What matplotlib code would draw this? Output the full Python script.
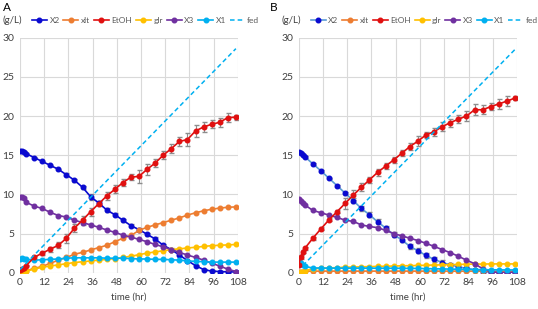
import matplotlib.pyplot as plt

plt.rcParams['font.family'] = ['Lato', 'DejaVu Sans']

t = [0, 1, 2, 3, 7, 11, 15, 19, 23, 27, 31, 35, 39, 43, 47, 51, 55, 59, 63, 67,
     71, 75, 79, 83, 87, 91, 95, 99, 103, 107]

# panel A
a_x2 = [15.5, 15.5, 15.4, 15.2, 14.7, 14.2, 13.7, 13.2, 12.5, 11.8, 10.9, 9.7, 8.9, 8.0, 7.4,
        6.7, 6.0, 5.5, 4.9, 4.3, 3.5, 2.95, 2.25, 1.55, 0.9, 0.4, 0.2, 0.15, 0.1, 0.1]
a_x2_err = [0.1, 0.1, 0.1, 0.1, 0.1, 0.1, 0.1, 0.1, 0.2, 0.2, 0.2, 0.4, 0.2, 0.2, 0.2,
            0.2, 0.2, 0.2, 0.2, 0.2, 0.2, 0.2, 0.1, 0.1, 0.1, 0.1, 0.1, 0.1, 0.1, 0.1]
a_xlt = [0.1, 0.1, 0.15, 0.25, 0.55, 0.8, 1.2, 1.6, 1.95, 2.35, 2.6, 2.9, 3.2, 3.5, 3.95,
         4.4, 4.75, 5.4, 5.8, 6.1, 6.4, 6.7, 7.0, 7.35, 7.65, 7.9, 8.1, 8.25, 8.35, 8.4]
a_etoh = [0.4, 0.45, 0.6, 0.9, 1.95, 2.5, 3.0, 3.5, 4.4, 5.7, 6.7, 7.8, 8.8, 9.8, 10.65,
          11.5, 12.2, 12.3, 13.2, 14.0, 15.0, 15.85, 16.75, 17.0, 18.1, 18.6, 18.95, 19.2, 19.8, 19.85]
a_etoh_err = [0.1, 0.1, 0.1, 0.1, 0.2, 0.2, 0.3, 0.4, 0.6, 0.5, 0.6, 0.5, 0.3, 0.5, 0.5,
              0.4, 0.4, 0.8, 0.7, 0.5, 0.5, 0.6, 0.6, 0.8, 0.8, 0.7, 0.5, 0.6, 0.6, 0.3]
a_glr = [0.0, 0.05, 0.1, 0.2, 0.45, 0.7, 0.85, 1.0, 1.15, 1.3, 1.4, 1.5, 1.6, 1.7, 1.8,
         1.95, 2.1, 2.3, 2.5, 2.65, 2.8, 2.95, 3.05, 3.15, 3.25, 3.35, 3.45, 3.5, 3.55, 3.6]
a_x3 = [9.6, 9.7, 9.5, 9.0, 8.5, 8.2, 7.7, 7.3, 7.1, 6.7, 6.4, 6.1, 5.8, 5.45, 5.15,
        4.8, 4.55, 4.25, 3.95, 3.6, 3.3, 2.95, 2.6, 2.25, 1.95, 1.6, 1.2, 0.85, 0.45, 0.15]
a_x1 = [1.8, 1.85, 1.8, 1.7, 1.6, 1.65, 1.7, 1.75, 1.85, 1.9, 1.9, 1.9, 1.9, 1.85, 1.85,
        1.85, 1.8, 1.75, 1.75, 1.7, 1.7, 1.65, 1.6, 1.5, 1.45, 1.4, 1.35, 1.35, 1.35, 1.35]
a_fed_t = [0, 107]
a_fed = [0.4, 28.6]

# panel B
b_x2 = [15.45, 15.25, 15.0, 14.8, 13.9, 13.0, 12.05, 11.1, 10.15, 9.2, 8.2, 7.4, 6.5, 5.7, 4.85,
        4.2, 3.35, 2.8, 2.2, 1.7, 1.3, 1.0, 0.75, 0.55, 0.4, 0.15, 0.05, 0.0, 0.0, 0.0]
b_x2_err = [0.1, 0.1, 0.1, 0.1, 0.1, 0.1, 0.1, 0.1, 0.2, 0.3, 0.3, 0.3, 0.3, 0.3, 0.3,
            0.3, 0.3, 0.3, 0.3, 0.3, 0.3, 0.3, 0.2, 0.2, 0.1, 0.1, 0.1, 0.1, 0.1, 0.1]
b_xlt = [0.1, 0.15, 0.15, 0.2, 0.2, 0.2, 0.2, 0.2, 0.2, 0.2, 0.2, 0.2, 0.2, 0.2, 0.2,
         0.2, 0.2, 0.2, 0.2, 0.2, 0.2, 0.2, 0.2, 0.2, 0.2, 0.2, 0.2, 0.2, 0.2, 0.2]
b_etoh = [1.0, 2.0, 2.7, 3.1, 4.4, 5.6, 6.75, 7.8, 8.85, 9.9, 10.9, 11.85, 12.8, 13.6, 14.4,
          15.25, 16.1, 16.8, 17.6, 18.0, 18.65, 19.15, 19.6, 20.0, 20.8, 20.8, 21.2, 21.55, 21.9, 22.3]
b_etoh_err = [0.1, 0.2, 0.2, 0.2, 0.2, 0.2, 0.2, 0.2, 0.7, 0.6, 0.5, 0.4, 0.5, 0.4, 0.4,
              0.4, 0.5, 0.6, 0.4, 0.5, 0.6, 0.5, 0.5, 0.6, 0.7, 0.6, 0.4, 0.6, 0.6, 0.2]
b_glr = [0.0, 0.1, 0.15, 0.25, 0.5, 0.55, 0.6, 0.65, 0.7, 0.72, 0.75, 0.78, 0.8, 0.82, 0.85,
         0.88, 0.9, 0.92, 0.95, 0.98, 1.0, 1.02, 1.05, 1.08, 1.1, 1.1, 1.12, 1.12, 1.12, 1.12]
b_x3 = [9.4, 9.2, 8.9, 8.65, 7.95, 7.65, 7.35, 7.05, 6.7, 6.55, 6.1, 5.9, 5.75, 5.4, 5.0,
        4.7, 4.4, 4.1, 3.75, 3.35, 2.95, 2.55, 2.1, 1.6, 1.15, 0.5, 0.12, 0.02, 0.02, 0.05]
b_x1 = [1.5, 1.3, 1.0, 0.8, 0.6, 0.6, 0.58, 0.58, 0.58, 0.58, 0.58, 0.58, 0.57, 0.57, 0.57,
        0.56, 0.55, 0.54, 0.52, 0.5, 0.48, 0.46, 0.44, 0.42, 0.4, 0.38, 0.37, 0.36, 0.35, 0.35]
b_fed_t = [2, 107]
b_fed = [0.9, 28.5]

xticks = [0, 12, 24, 36, 48, 60, 72, 84, 96, 108]
yticks = [0, 5, 10, 15, 20, 25, 30]

c_x2 = '#0a0ad0'
c_xlt = '#ed7d31'
c_etoh = '#e01010'
c_glr = '#ffc000'
c_x3 = '#7030a0'
c_x1 = '#00b0f0'


def panel(ax, x2, x2e, xlt, etoh, etohe, glr, x3, x1, ft, fv, x2line):
    ekw = dict(fmt='none', ecolor='#8c8c8c', elinewidth=0.8, capsize=1.8)
    ax.errorbar(t, x2, yerr=x2e, **ekw)
    ax.errorbar(t, etoh, yerr=etohe, **ekw)
    ax.plot(t, x2, marker='o', ms=3.3, lw=1.2, color=x2line, mfc=c_x2, mec=c_x2, label='X2')
    ax.plot(t, xlt, marker='o', ms=3.3, lw=1.2, color=c_xlt, label='xlt')
    ax.plot(t, glr, marker='o', ms=3.3, lw=1.2, color=c_glr, label='glr')
    ax.plot(t, x3, marker='o', ms=3.3, lw=1.2, color=c_x3, label='X3')
    ax.plot(t, x1, marker='o', ms=3.3, lw=1.2, color=c_x1, label='X1')
    ax.plot(t, etoh, marker='o', ms=3.3, lw=1.2, color=c_etoh, label='EtOH')
    ax.plot(ft, fv, ls=(0, (3, 2)), lw=1.1, color=c_x1, label='fed')
    ax.set_xlim(0, 108)
    ax.set_ylim(0, 30)
    ax.set_xticks(xticks)
    ax.set_yticks(yticks)
    ax.grid(True, color='#d9d9d9', lw=0.8)
    ax.set_axisbelow(True)
    for s in ax.spines.values():
        s.set_visible(False)
    ax.tick_params(length=0, labelsize=7.5, pad=4, colors='#404040')
    ax.set_xlabel('time (hr)', fontsize=7, color='#404040', labelpad=4)
    h, l = ax.get_legend_handles_labels()
    order = ['X2', 'xlt', 'EtOH', 'glr', 'X3', 'X1', 'fed']
    hh = [h[l.index(n)] for n in order]
    ax.legend(hh, order, loc='center left', bbox_to_anchor=(0.055, 1.075), ncol=7, frameon=False,
              fontsize=6, handlelength=1.8, handletextpad=0.3, columnspacing=0.45,
              borderpad=0, borderaxespad=0, labelcolor='#595959')
    ax.text(-0.08, 1.075, '(g/L)', transform=ax.transAxes, fontsize=7, va='center',
            ha='left', color='#404040')


fig = plt.figure(figsize=(5.38, 3.09), dpi=100)
ax1 = fig.add_axes([0.0372, 0.1175, 0.405, 0.7605])
ax2 = fig.add_axes([0.5552, 0.1175, 0.4058, 0.7605])
panel(ax1, a_x2, a_x2_err, a_xlt, a_etoh, a_etoh_err, a_glr, a_x3, a_x1, a_fed_t, a_fed, c_x2)
panel(ax2, b_x2, b_x2_err, b_xlt, b_etoh, b_etoh_err, b_glr, b_x3, b_x1, b_fed_t, b_fed, '#5b9bd5')
fig.text(0.006, 0.975, 'A', fontsize=8.5, va='center', ha='left')
fig.text(0.502, 0.975, 'B', fontsize=8.5, va='center', ha='left')

fig.savefig('out.png', dpi=100)
